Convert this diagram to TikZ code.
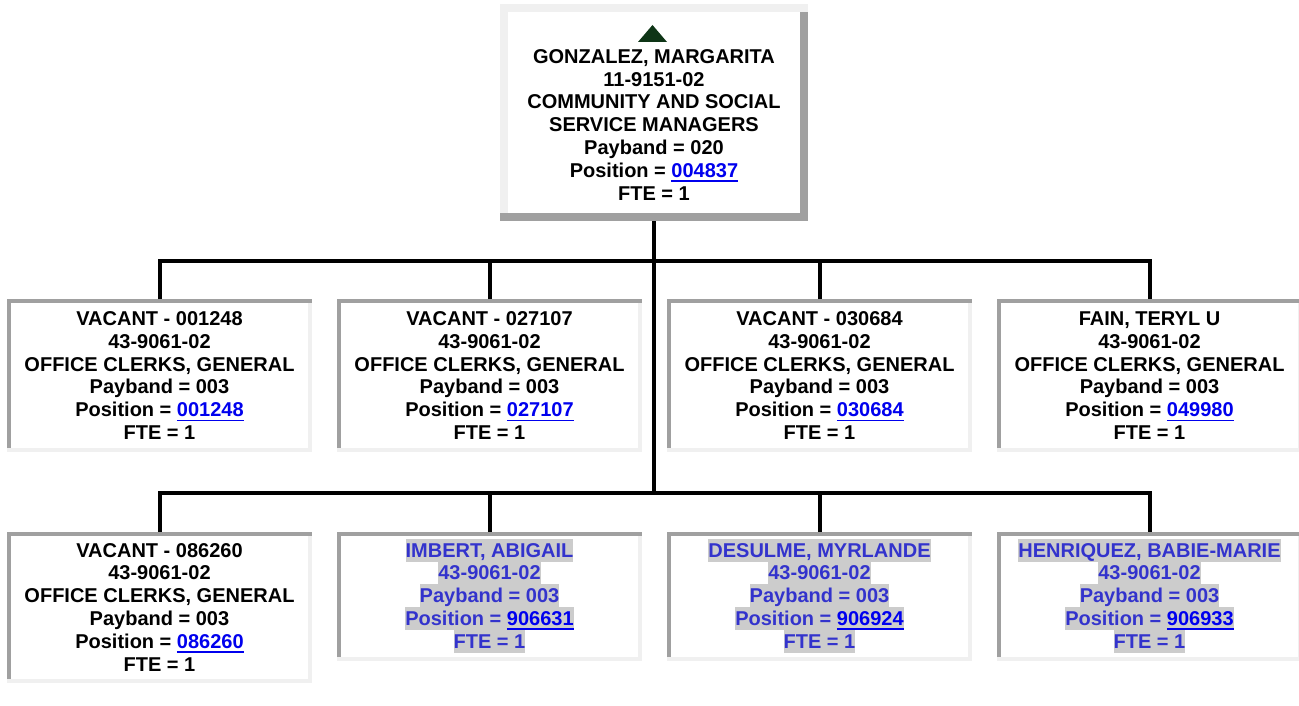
\documentclass[tikz,border=0pt]{standalone}
\usepackage{fontspec}
\setmainfont{Liberation Sans}
\usetikzlibrary{fit}
\definecolor{bdark}{HTML}{A0A0A0}
\definecolor{blite}{HTML}{F0F0F0}
\definecolor{linkblue}{HTML}{0000EE}
\definecolor{hltext}{HTML}{3333CC}
\definecolor{hlbg}{HTML}{CCCCCC}
\definecolor{trigreen}{HTML}{0E3516}
\newcommand\Lstrut{\rule[-3.4pt]{0pt}{17.1pt}}
\newcommand\ulink[1]{\begingroup\color{linkblue}\setbox0\hbox{#1}\rlap{\rule[-3.3pt]{\wd0}{1.2pt}}\box0\endgroup}
\newcommand\hlrow[1]{{\setlength\fboxsep{0pt}\colorbox{hlbg}{\Lstrut#1}}}
\newcommand\rowsbox[1]{{\renewcommand\arraystretch{0}\begin{tabular}[t]{@{}c@{}}#1\end{tabular}}}
% inset box: name, x1, y1, x2, y2 (px, y downward)
\newcommand\insetbox[5]{%
  \fill[white] (#2,#3) rectangle (#4,#5);
  \fill[bdark] (#2,#3) rectangle (#2+4,#5);
  \fill[blite] (#4-4,#3) rectangle (#4,#5);
  \fill[blite] (#2,#5-4) rectangle (#4,#5);
  \fill[bdark] (#2,#3) rectangle (#4,#3+4);
  \node[boxnode, fit={(#2,#3)(#4,#5)}] (#1) {};}
% outset box
\newcommand\outsetbox[5]{%
  \fill[white] (#2,#3) rectangle (#4,#5);
  \fill[blite] (#2,#3) rectangle (#2+8,#5);
  \fill[bdark] (#4-8,#3) rectangle (#4,#5);
  \fill[blite] (#2,#3) rectangle (#4,#3+8);
  \fill[bdark] (#2,#5-8) rectangle (#4,#5);
  \node[boxnode, fit={(#2,#3)(#4,#5)}] (#1) {};}
\tikzset{
  boxnode/.style={inner sep=0pt, outer sep=0pt},
  label/.style={anchor=base, inner sep=0pt, outer sep=0pt, align=center,
    font=\bfseries\fontsize{15}{17.1}\selectfont},
  hllabel/.style={label, text=hltext},
  conn/.style={line width=3pt, black}
}
\begin{document}
\begin{tikzpicture}[x=0.75pt, y=-0.75pt]
\useasboundingbox (0,0) rectangle (1299,706);
\clip (0,0) rectangle (1299,706);
% boxes
\outsetbox{g}{500}{4}{808}{221}
\insetbox{m1}{7}{299}{312}{452}
\insetbox{m2}{337}{299}{642}{452}
\insetbox{m3}{667}{299}{972}{452}
\insetbox{m4}{997}{299}{1302}{452}
\insetbox{n1}{7}{532}{312}{683}
\insetbox{n2}{337}{532}{642}{661}
\insetbox{n3}{667}{532}{972}{661}
\insetbox{n4}{997}{532}{1302}{661}
% connectors
\coordinate (bar1) at (654,260.5);
\coordinate (bar2) at (654,492.5);
\draw[conn] (g.south) -- (bar2);
\draw[conn] (m1.north) -- (m1.north |- bar1) -- (m4.north |- bar1) -- (m4.north);
\draw[conn] (m2.north) -- (m2.north |- bar1);
\draw[conn] (m3.north) -- (m3.north |- bar1);
\draw[conn] (n1.north) -- (n1.north |- bar2) -- (n4.north |- bar2) -- (n4.north);
\draw[conn] (n2.north) -- (n2.north |- bar2);
\draw[conn] (n3.north) -- (n3.north |- bar2);
% top box
\fill[trigreen] (638,42) -- (652.5,25) -- (667,42) -- cycle;
\node[label] (gt) at (654,63.3) {\rowsbox{\Lstrut GONZALEZ, MARGARITA\\ \Lstrut 11-9151-02\\ \Lstrut COMMUNITY AND SOCIAL\\ \Lstrut SERVICE MANAGERS\\ \Lstrut Payband = 020\\ \Lstrut Position = \ulink{004837}\\ \Lstrut FTE = 1}};
% middle row
\node[label] (m1t) at (159.5,325.5) {\rowsbox{\Lstrut VACANT - 001248\\ \Lstrut 43-9061-02\\ \Lstrut OFFICE CLERKS, GENERAL\\ \Lstrut Payband = 003\\ \Lstrut Position = \ulink{001248}\\ \Lstrut FTE = 1}};
\node[label] (m2t) at (489.5,325.5) {\rowsbox{\Lstrut VACANT - 027107\\ \Lstrut 43-9061-02\\ \Lstrut OFFICE CLERKS, GENERAL\\ \Lstrut Payband = 003\\ \Lstrut Position = \ulink{027107}\\ \Lstrut FTE = 1}};
\node[label] (m3t) at (819.5,325.5) {\rowsbox{\Lstrut VACANT - 030684\\ \Lstrut 43-9061-02\\ \Lstrut OFFICE CLERKS, GENERAL\\ \Lstrut Payband = 003\\ \Lstrut Position = \ulink{030684}\\ \Lstrut FTE = 1}};
\node[label] (m4t) at (1149.5,325.5) {\rowsbox{\Lstrut FAIN, TERYL U\\ \Lstrut 43-9061-02\\ \Lstrut OFFICE CLERKS, GENERAL\\ \Lstrut Payband = 003\\ \Lstrut Position = \ulink{049980}\\ \Lstrut FTE = 1}};
% bottom row
\node[label] (n1t) at (159.5,557) {\rowsbox{\Lstrut VACANT - 086260\\ \Lstrut 43-9061-02\\ \Lstrut OFFICE CLERKS, GENERAL\\ \Lstrut Payband = 003\\ \Lstrut Position = \ulink{086260}\\ \Lstrut FTE = 1}};
\node[hllabel] (n2t) at (489.5,557) {\rowsbox{\hlrow{IMBERT, ABIGAIL}\\ \hlrow{43-9061-02}\\ \hlrow{Payband = 003}\\ \hlrow{Position = \ulink{906631}}\\ \hlrow{FTE = 1}}};
\node[hllabel] (n3t) at (819.5,557) {\rowsbox{\hlrow{DESULME, MYRLANDE}\\ \hlrow{43-9061-02}\\ \hlrow{Payband = 003}\\ \hlrow{Position = \ulink{906924}}\\ \hlrow{FTE = 1}}};
\node[hllabel] (n4t) at (1149.5,557) {\rowsbox{\hlrow{HENRIQUEZ, BABIE-MARIE}\\ \hlrow{43-9061-02}\\ \hlrow{Payband = 003}\\ \hlrow{Position = \ulink{906933}}\\ \hlrow{FTE = 1}}};
\end{tikzpicture}
\end{document}
